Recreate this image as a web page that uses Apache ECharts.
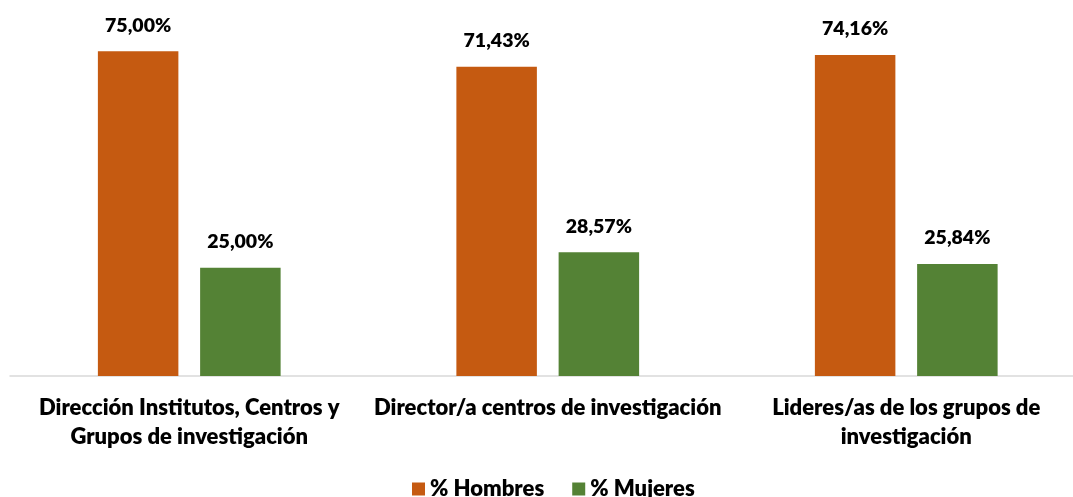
<!DOCTYPE html>
<html>
<head>
<meta charset="utf-8">
<script src="https://cdn.jsdelivr.net/npm/echarts@6/dist/echarts.min.js"></script>
<style>
  html, body { margin: 0; padding: 0; background: #fff; }
  #chart { width: 1073px; height: 497px; }
</style>
</head>
<body>
<div id="chart"></div>
<script>
  const categories = [
    'Dirección Institutos, Centros y\nGrupos de investigación',
    'Director/a centros de investigación',
    'Lideres/as de los grupos de\ninvestigación',
  ];
  const hombres = [75.0, 71.43, 74.16];
  const mujeres = [25.0, 28.57, 25.84];
  const seriesNames = ['% Hombres', '% Mujeres'];

  const font = 'Lato, "Open Sans", sans-serif';
  const fmt = (v) => v.toFixed(2).replace('.', ',') + '%';

  const chart = echarts.init(document.getElementById('chart'));

  const labelStyle = {
    show: true,
    position: 'top',
    distance: 16,
    color: '#000',
    fontFamily: font,
    fontWeight: 800,
    fontSize: 19.5,
    formatter: (p) => fmt(p.value),
  };

  chart.setOption({
    animation: false,
    grid: {
      left: 10,
      width: 1075.5,
      top: 29.6,
      bottom: 121,
      containLabel: false,
      outerBoundsMode: 'none',
    },
    legend: {
      top: 473,
      left: 407,
      padding: 5,
      itemWidth: 13,
      itemHeight: 13,
      itemGap: 28,
      icon: 'rect',
      textStyle: { fontFamily: font, fontWeight: 800, fontSize: 22, color: '#000' },
      data: seriesNames,
    },
    xAxis: {
      type: 'category',
      data: categories,
      axisLine: { lineStyle: { color: '#D9D9D9', width: 1.5 } },
      axisTick: { show: false },
      axisLabel: {
        margin: 17,
        color: '#000',
        fontFamily: font,
        fontWeight: 800,
        fontSize: 22,
        lineHeight: 29,
        interval: 0,
      },
    },
    yAxis: {
      type: 'value',
      min: 0,
      max: 80,
      show: false,
      splitLine: { show: false },
    },
    series: [
      {
        name: seriesNames[0],
        type: 'bar',
        data: hombres,
        barWidth: 80.5,
        barGap: '27%',
        itemStyle: { color: '#C55A11' },
        label: labelStyle,
      },
      {
        name: seriesNames[1],
        type: 'bar',
        data: mujeres,
        barWidth: 80.5,
        itemStyle: { color: '#548235' },
        label: labelStyle,
      },
    ],
  });
</script>
</body>
</html>
